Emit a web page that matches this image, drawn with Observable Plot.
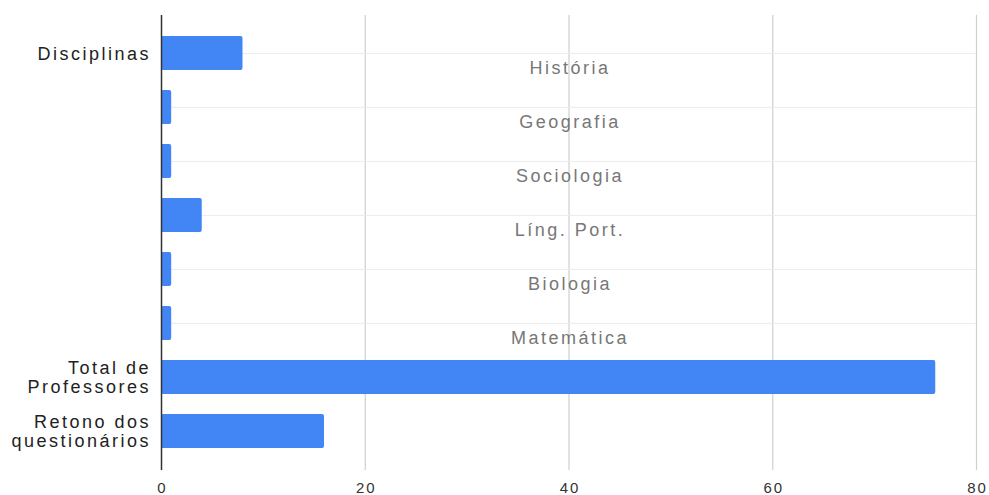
<!DOCTYPE html>
<html>
<head>
<meta charset="utf-8">
<script src="https://cdn.jsdelivr.net/npm/d3@7"></script>
<script src="https://cdn.jsdelivr.net/npm/@observablehq/plot@0.6"></script>
<style>
  html, body { margin: 0; padding: 0; background: #fff; }
  #chart svg { display: block; }
</style>
</head>
<body>
<div id="chart"></div>
<script>
// Subjects taught (one bar each) and their teacher counts
const subjects = ["História", "Geografia", "Sociologia", "Líng. Port.", "Biologia", "Matemática"];
const subjectCounts = [8, 1, 1, 4, 1, 1];
const groupLabel = "Disciplinas";

// Summary rows
const summaryLabels = ["Total de\nProfessores", "Retono dos\nquestionários"];
const summaryCounts = [76, 16];

// x-axis ticks
const xTicks = [0, 20, 40, 60, 80];

// Row table: subject rows show the group label only on the first row
const rows = [
  ...subjects.map((s, i) => ({key: s, value: subjectCounts[i], axisLabel: i === 0 ? groupLabel : "", note: s})),
  ...summaryLabels.map((s, i) => ({key: s, value: summaryCounts[i], axisLabel: s, note: ""}))
];

const font = "'Liberation Sans', Arial, sans-serif";

const chart = Plot.plot({
  width: 989,
  height: 495,
  marginLeft: 161,
  marginRight: 13,
  marginTop: 15,
  marginBottom: 25,
  style: {fontFamily: font, background: "#fff"},
  x: {domain: [0, 80], axis: null},
  y: {domain: rows.map(d => d.key), axis: null, paddingInner: 0.367, paddingOuter: 0.358},
  marks: [
    // vertical grid
    Plot.ruleX(xTicks.filter(t => t !== 0), {stroke: "#cfcfcf", strokeWidth: 1.2}),
    // faint row guides for the subject rows
    Plot.ruleY(rows.filter(d => d.note), {y: "key", stroke: "#ececec", strokeWidth: 1.2}),
    // bars
    Plot.barX(rows, {x: "value", y: "key", fill: "#4285F4", rx: 2}),
    // baseline
    Plot.ruleX([0], {stroke: "#333", strokeWidth: 1.5}),
    // subject names inside the plot
    Plot.text(rows.filter(d => d.note), {
      x: () => 40, y: "key", text: "note", dy: 15, dx: 1.1,
      fill: "#777", fontSize: 18, style: {letterSpacing: "2.3px"}
    }),
    // category labels
    Plot.text(rows, {
      y: "key", text: "axisLabel", frameAnchor: "left", textAnchor: "end",
      dx: -10.5, lineHeight: 1.07, fill: "#222", fontSize: 18
    }),
    // x tick labels
    Plot.text(xTicks, {
      x: d => d, text: d => String(d), frameAnchor: "bottom", lineAnchor: "top",
      dy: 12, dx: 1, fill: "#333", fontSize: 15
    })
  ]
});

// letter spacing for the axis texts
chart.querySelectorAll("text").forEach(t => {
  if (!t.style.letterSpacing) t.style.letterSpacing = t.getAttribute("font-size") === "18" || (t.parentNode && t.parentNode.getAttribute("font-size") === "18") ? "2.5px" : "2px";
});

document.getElementById("chart").appendChild(chart);
</script>
</body>
</html>
